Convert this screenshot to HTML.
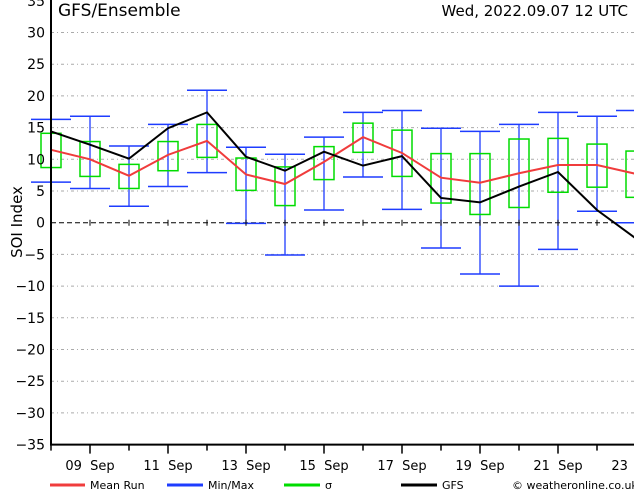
<!DOCTYPE html>
<html><head><meta charset="utf-8"><style>
html,body{margin:0;padding:0;background:#fff;width:634px;height:490px;overflow:hidden}
svg text{font-family:"DejaVu Sans","Liberation Sans",sans-serif}
</style></head><body>
<svg id="chart" width="634" height="490" viewBox="0 0 634 490" xmlns="http://www.w3.org/2000/svg">
<g id="grid"></g>
<g id="series"></g>
<g id="axes"></g>
<text x="58" y="16" font-size="17">GFS/Ensemble</text>
<text x="628" y="16" font-size="15" text-anchor="end">Wed, 2022.09.07   12 UTC</text>
<text transform="translate(22,222) rotate(-90)" font-size="15" text-anchor="middle">SOI Index</text>
<g font-size="11">
<g><line x1="50" y1="485" x2="85" y2="485" stroke="#f03c3c" stroke-width="3"/><text x="90" y="489">Mean Run</text></g>
<g><line x1="167" y1="485" x2="203" y2="485" stroke="#1e3cff" stroke-width="3"/><text x="208" y="489">Min/Max</text></g>
<g><line x1="284" y1="485" x2="320" y2="485" stroke="#00dc00" stroke-width="3"/><text x="325" y="489">σ</text></g>
<g><line x1="401" y1="485" x2="437" y2="485" stroke="#000" stroke-width="3"/><text x="442" y="489">GFS</text></g>
<text x="512" y="489">© weatheronline.co.uk</text>
</g>
</svg>
<script>
const gfs=[14.4,12.3,10.1,14.9,17.4,10.4,8.2,11.2,9.0,10.5,3.9,3.2,5.7,8.0,2.0,-2.5];
const meanRun=[11.5,10.0,7.4,10.7,12.9,7.6,6.1,9.6,13.5,11.0,7.1,6.3,7.8,9.1,9.1,7.7];
const sigmaHigh=[14.1,12.8,9.2,12.8,15.5,10.2,8.8,12.0,15.7,14.6,10.9,10.9,13.2,13.3,12.4,11.3];
const sigmaLow=[8.7,7.3,5.4,8.2,10.3,5.1,2.7,6.8,11.1,7.3,3.1,1.3,2.4,4.8,5.6,4.0];
const maxVals=[16.3,16.8,12.1,15.5,20.9,11.9,10.8,13.5,17.4,17.7,14.9,14.4,15.5,17.4,16.8,17.7];
const minVals=[6.4,5.4,2.6,5.7,7.9,-0.1,-5.1,2.0,7.2,2.1,-4.0,-8.1,-10.0,-4.2,1.8,0.0];
const xLabels=["09 Sep","11 Sep","13 Sep","15 Sep","17 Sep","19 Sep","21 Sep","23 Sep"];
const yTicks=[35,30,25,20,15,10,5,0,-5,-10,-15,-20,-25,-30,-35];
const NS="http://www.w3.org/2000/svg";
const X=i=>51+39*i;
const Y=v=>222.7-v*6.34;
function mk(tag,attrs,parent){const e=document.createElementNS(NS,tag);for(const k in attrs)e.setAttribute(k,attrs[k]);parent.appendChild(e);return e;}
const grid=document.getElementById('grid'),ser=document.getElementById('series'),ax=document.getElementById('axes');
yTicks.forEach(v=>{
 if(v!==0&&v!==-35&&v!==35){const l=mk('line',{x1:51,x2:634,y1:Y(v),y2:Y(v),stroke:'#aaa','stroke-dasharray':'3,3,1,3'},grid);
 
 }
 const t=mk('text',{x:45,y:Y(v)+5,'font-size':14,'text-anchor':'end'},ax);t.textContent=(v<0?'−':'')+Math.abs(v);
 
 
});
const z=mk('line',{x1:51,x2:634,y1:Y(0),y2:Y(0),stroke:'#000','stroke-dasharray':'5,3'},grid);


for(let i=0;i<gfs.length;i++){
 const x=X(i);
 const w=mk('line',{x1:x,x2:x,y1:Y(maxVals[i]),y2:Y(minVals[i]),stroke:'#1e3cff','stroke-width':1.3},ser);
 
 
 [maxVals[i],minVals[i]].forEach(v=>{const c=mk('line',{x1:x-20,x2:x+20,y1:Y(v),y2:Y(v),stroke:'#1e3cff','stroke-width':1.5},ser);
 
 });
 const b=mk('rect',{x:x-10,y:Y(sigmaHigh[i]),width:20,height:Y(sigmaLow[i])-Y(sigmaHigh[i]),fill:'none',stroke:'#00dc00','stroke-width':1.5},ser);
 
 
}
const pm=mk('polyline',{points:meanRun.map((v,i)=>X(i)+','+Y(v)).join(' '),fill:'none',stroke:'#f03c3c','stroke-width':2},ser);


const pg=mk('polyline',{points:gfs.map((v,i)=>X(i)+','+Y(v)).join(' '),fill:'none',stroke:'#000','stroke-width':2},ser);


const fr=mk('path',{d:'M51,0 V'+Y(-35)+' H634',fill:'none',stroke:'#000','stroke-width':2},ax);


for(let i=0;i<16;i++){const tk=mk('line',{x1:X(i),x2:X(i),y1:Y(-35),y2:Y(-35)+(i%2?9:6),stroke:'#000','stroke-width':1.5},ax);
 
 
 const tk2=mk('line',{x1:X(i),x2:X(i),y1:Y(0)-3,y2:Y(0)+3,stroke:'#000'},ax);
 
 }
xLabels.forEach((s,k)=>{const t=mk('text',{x:X(1+2*k),y:470,'font-size':13,'text-anchor':'middle'},ax);t.textContent=s.replace(' ','\u00a0\u00a0');
 
 });
</script>
</body></html>
